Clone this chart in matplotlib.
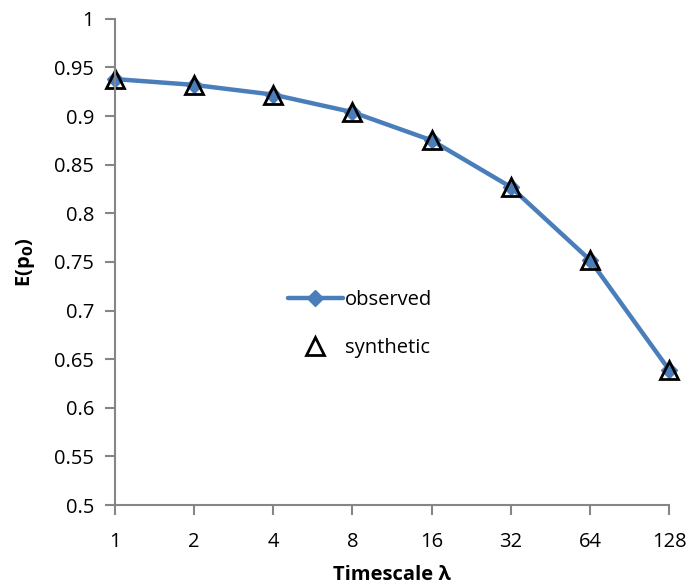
import matplotlib
matplotlib.use("Agg")
import matplotlib.pyplot as plt
import numpy as np

# timescale categories and expected p0 values
timescales = ["1", "2", "4", "8", "16", "32", "64", "128"]
observed = [0.938, 0.932, 0.922, 0.904, 0.875, 0.827, 0.752, 0.639]
synthetic = [0.938, 0.932, 0.922, 0.904, 0.875, 0.827, 0.752, 0.639]

plt.rcParams['font.family'] = ['Open Sans', 'DejaVu Sans']

fig = plt.figure(figsize=(6.92, 5.86), dpi=100)
ax = fig.add_axes([0.166, 0.138, 0.801, 0.830])

x = np.arange(len(timescales))
ax.plot(x, observed, color='#4a7ebb', lw=3.2, marker='D', ms=8,
        solid_capstyle='round', label='observed', clip_on=False)
ax.plot(x, synthetic, ls='none', marker='^', ms=13, mfc='none',
        mec='black', mew=2, label='synthetic', clip_on=False)

ax.set_xlim(0, len(timescales) - 1)
ax.set_ylim(0.5, 1.0)
ax.set_xticks(x)
ax.set_xticklabels(timescales)
ax.set_yticks(np.arange(0.5, 1.001, 0.05))
ax.set_yticklabels(["0.5", "0.55", "0.6", "0.65", "0.7", "0.75", "0.8",
                    "0.85", "0.9", "0.95", "1"])

for side in ['top', 'right']:
    ax.spines[side].set_visible(False)
for side in ['left', 'bottom']:
    ax.spines[side].set_color('#868686')
    ax.spines[side].set_linewidth(1.5)
ax.tick_params(colors='#868686', labelcolor='black', labelsize=14.5,
               length=7, width=1.5)
ax.tick_params(axis='x', pad=12)
ax.tick_params(axis='y', pad=8)

ax.set_xlabel('Timescale λ', fontsize=14.5, fontweight='bold', labelpad=10)
ax.set_ylabel(r'E(p$_\mathbf{0}$)', fontsize=14.5, fontweight='bold',
              labelpad=12)

leg = ax.legend(loc='upper left', bbox_to_anchor=(0.28, 0.48), frameon=False,
                fontsize=14.5, handlelength=2.7, labelspacing=1.4,
                handletextpad=0.1)

fig.savefig('out.png', dpi=100)
